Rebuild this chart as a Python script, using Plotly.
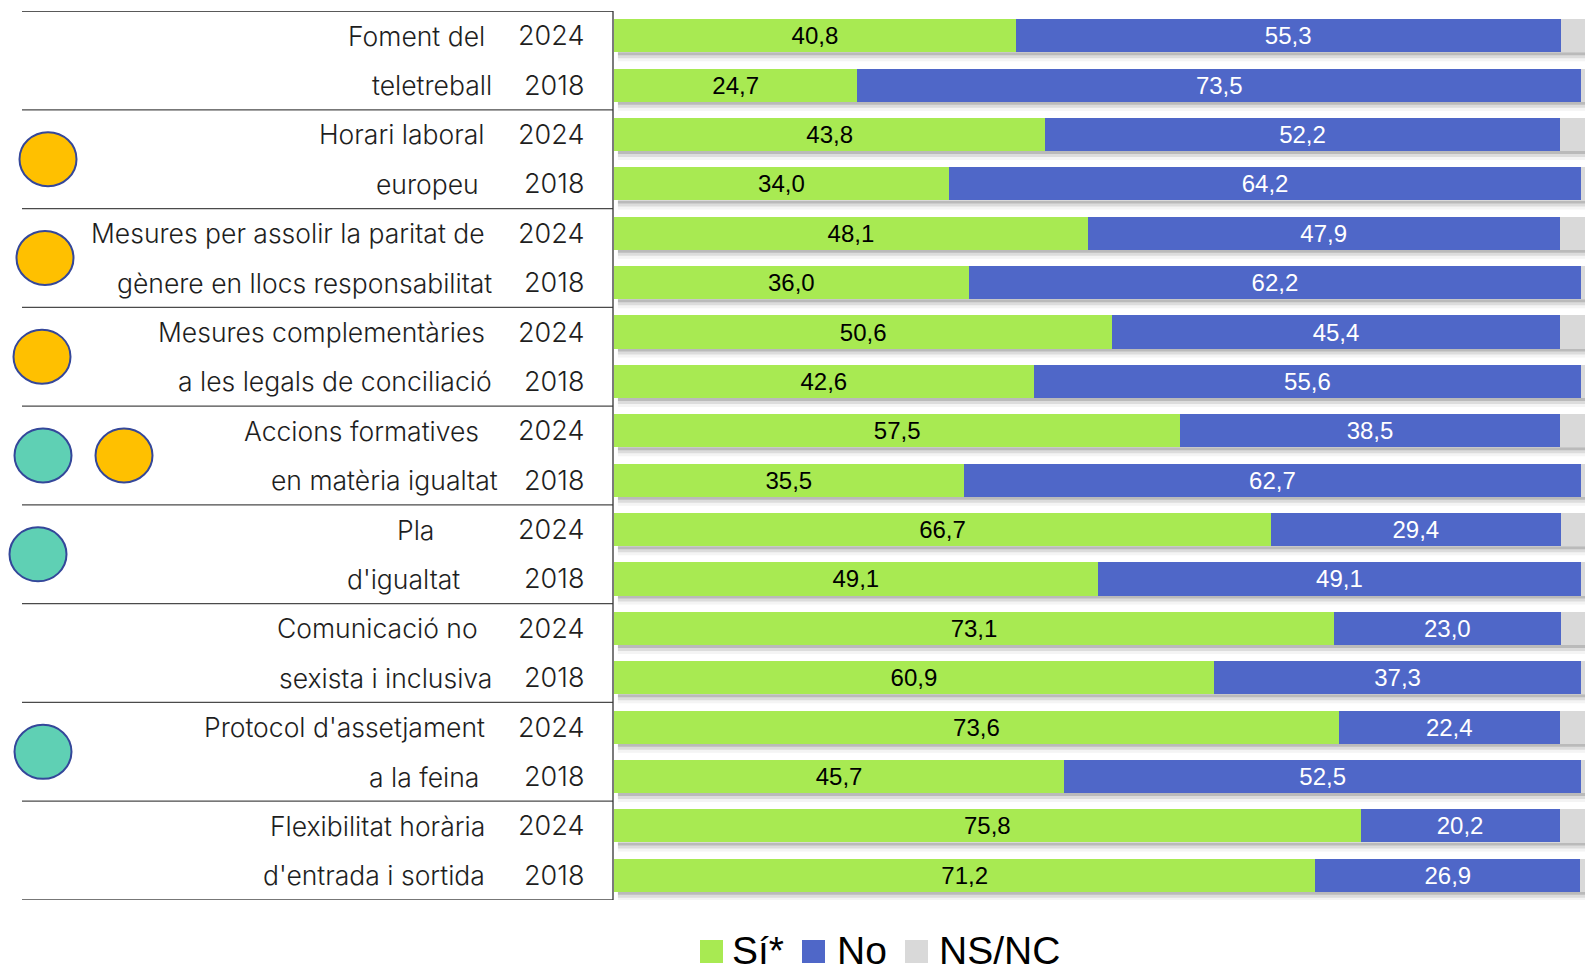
import plotly.graph_objects as go

# ---------------- data ----------------
cat_line1 = ["Foment del", "Horari laboral", "Mesures per assolir la paritat de",
             "Mesures complementàries", "Accions formatives", "Pla",
             "Comunicació no", "Protocol d'assetjament", "Flexibilitat horària"]
cat_line2 = ["teletreball", "europeu", "gènere en llocs responsabilitat",
             "a les legals de conciliació", "en matèria igualtat", "d'igualtat",
             "sexista i inclusiva", "a la feina", "d'entrada i sortida"]
years = ["2024", "2018"]

# rows top -> bottom (each category: 2024 then 2018)
si = [40.8, 24.7, 43.8, 34.0, 48.1, 36.0, 50.6, 42.6, 57.5, 35.5,
      66.7, 49.1, 73.1, 60.9, 73.6, 45.7, 75.8, 71.2]
no = [55.3, 73.5, 52.2, 64.2, 47.9, 62.2, 45.4, 55.6, 38.5, 62.7,
      29.4, 49.1, 23.0, 37.3, 22.4, 52.5, 20.2, 26.9]
nsnc = [3.9, 1.8, 4.0, 1.8, 4.0, 1.8, 4.0, 1.8, 4.0, 1.8,
        3.9, 1.8, 3.9, 1.8, 4.0, 1.8, 4.0, 1.9]

series_names = ["Sí*", "No", "NS/NC"]

# icons per category (category index, colour key)
icons = [(1, "orange"), (2, "orange"), (3, "orange"), (4, "teal"), (4, "orange"),
         (5, "teal"), (7, "teal")]

# ---------------- style ----------------
W, H = 1585, 966
C_SI, C_NO, C_NS = "#A8EA52", "#4F67C8", "#D9D9D9"
ICON_COL = {"orange": "#FFC000", "teal": "#5FD0B4"}
ICON_LINE = "#34479A"
TXT = "#1E1E1E"
LABEL_FONT = "Inter, Lato, sans-serif"
NUM_FONT = "'Liberation Sans', Arial, sans-serif"

X0_PX, X_END_PX = 614, 1585
PX_PER_PCT = 9.85
TOP_PX, BOT_PX = 11, 900
TABLE_R = 613
n_rows = len(si)
row_px = (BOT_PX - TOP_PX) / n_rows
BAR_W = 0.67


def X(px):
    return px / W


def Y(py):
    return 1 - py / H


def fmt(v):
    return f"{v:.1f}".replace(".", ",")


rows = list(range(n_rows))

fig = go.Figure()
for vals, col, name, tcol in [(si, C_SI, series_names[0], "black"),
                              (no, C_NO, series_names[1], "white"),
                              (nsnc, C_NS, series_names[2], None)]:
    fig.add_trace(go.Bar(
        orientation="h", x=vals, y=rows, name=name, width=BAR_W,
        marker=dict(color=col, line=dict(width=0)),
        text=[fmt(v) for v in vals] if tcol else None,
        textposition="inside" if tcol else "none",
        insidetextanchor="middle", textangle=0, constraintext="none",
        textfont=dict(family=NUM_FONT, size=24, color=tcol or "black"),
        hoverinfo="skip", showlegend=False,
    ))

shapes = []
# bar shadows
for r in rows:
    total = si[r] + no[r] + nsnc[r]
    yb = r + BAR_W / 2
    for k, op in [(3, 0.30), (6, 0.18), (9, 0.08)]:
        shapes.append(dict(type="rect", xref="x", yref="y", x0=0.4, x1=total,
                           y0=yb, y1=yb + k / row_px, line=dict(width=0),
                           fillcolor="rgba(110,110,110,%s)" % op, layer="below"))

# table lines
n_cat = len(cat_line1)
for g in range(n_cat + 1):
    yv = 2 * g - 0.5
    shapes.append(dict(type="line", xref="paper", yref="y", x0=X(22), x1=X(TABLE_R),
                       y0=yv, y1=yv,
                       line=dict(color="#222222" if g == 0 else "#4a4a4a", width=1.3)))
shapes.append(dict(type="line", xref="paper", yref="y", x0=X(TABLE_R), x1=X(TABLE_R),
                   y0=-0.5, y1=n_rows - 0.5, line=dict(color="#333333", width=1.3)))

# icons
icon_px = {1: [48], 2: [45], 3: [42], 4: [43, 124], 5: [38], 7: [43]}
used = {}
for ci, key in icons:
    slot = used.get(ci, 0)
    used[ci] = slot + 1
    cx = icon_px[ci][slot]
    cy = 2 * ci + 0.5
    hw, hh = 28.5, 27 / row_px
    shapes.append(dict(type="circle", xref="paper", yref="y",
                       x0=X(cx - hw), x1=X(cx + hw), y0=cy - hh, y1=cy + hh,
                       fillcolor=ICON_COL[key], line=dict(color=ICON_LINE, width=2)))

annotations = []
line1_right = [487, 487, 487, 487, 481, 436, 480, 487, 487]
line2_right = [494, 481, 494, 494, 500, 462, 494, 481, 487]
for ci in range(n_cat):
    for j, (txt, xr) in enumerate([(cat_line1[ci], line1_right[ci]),
                                   (cat_line2[ci], line2_right[ci])]):
        annotations.append(dict(x=X(xr), y=2 * ci + j, xref="paper", yref="y",
                                text=txt, showarrow=False, xanchor="right",
                                yanchor="middle",
                                font=dict(family=LABEL_FONT, size=26.5, color=TXT,
                                          weight=300)))
        annotations.append(dict(x=X(586), y=2 * ci + j, xref="paper", yref="y",
                                text=years[j], showarrow=False, xanchor="right",
                                yanchor="middle",
                                font=dict(family=LABEL_FONT, size=27, color=TXT,
                                          weight=300)))

# legend (manual)
leg_sq = [700, 802, 905]
leg_tx = [730, 835, 937]
for name, col, sx, tx in zip(series_names, [C_SI, C_NO, C_NS], leg_sq, leg_tx):
    shapes.append(dict(type="rect", xref="paper", yref="paper",
                       x0=X(sx), x1=X(sx + 23), y0=Y(963), y1=Y(940),
                       fillcolor=col, line=dict(width=0)))
    annotations.append(dict(x=X(tx), y=Y(950), xref="paper", yref="paper",
                            text=name, showarrow=False, xanchor="left",
                            yanchor="middle",
                            font=dict(family=NUM_FONT, size=39, color="black")))

x_max = (X_END_PX - X0_PX) / PX_PER_PCT
fig.update_layout(
    width=W, height=H, margin=dict(l=0, r=0, t=0, b=0),
    paper_bgcolor="white", plot_bgcolor="white",
    barmode="stack", showlegend=False,
    xaxis=dict(domain=[X(X0_PX), 1], range=[0, x_max], visible=False, fixedrange=True),
    yaxis=dict(domain=[Y(BOT_PX), Y(TOP_PX)], range=[n_rows - 0.5, -0.5],
               visible=False, fixedrange=True),
    shapes=shapes, annotations=annotations,
)

fig.write_html("out.html", config={"displayModeBar": False},
               post_script="document.body.style.margin='0';"
                           "document.body.style.overflow='hidden';")
